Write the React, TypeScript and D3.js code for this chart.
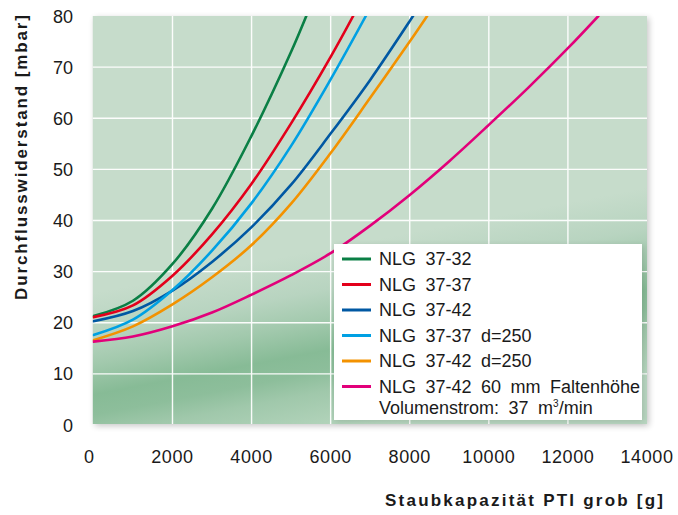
import React from "react";
import * as d3 from "d3";

const W = 678;
const H = 515;

const xTicks = [0, 2000, 4000, 6000, 8000, 10000, 12000, 14000];
const yTicks = [0, 10, 20, 30, 40, 50, 60, 70, 80];

const seriesNames = [
  "NLG 37-32",
  "NLG 37-37",
  "NLG 37-42",
  "NLG 37-37 d=250",
  "NLG 37-42 d=250",
  "NLG 37-42 60 mm Faltenhöhe",
];
const seriesColors = ["#0a7f45", "#e3001b", "#0058a3", "#00a0e3", "#f39200", "#e2007a"];

const green: [number, number][] = [
  [0, 21.3], [1000, 24.3], [2000, 31.5], [3000, 42.3], [4000, 56.6], [5000, 73], [5400, 80.3],
];
const red: [number, number][] = [
  [0, 21.1], [1000, 23.4], [2000, 29.2], [3000, 37.3], [4000, 47.2], [5000, 59], [6000, 72], [6570, 80],
];
const darkBlue: [number, number][] = [
  [0, 20.3], [1000, 22.3], [2000, 26.3], [3000, 31.9], [4000, 38.7], [5000, 47], [6000, 57], [7000, 67.5], [8000, 79], [8100, 80.2],
];
const lightBlue: [number, number][] = [
  [0, 17.6], [1000, 20.6], [2000, 26.4], [3000, 34.1], [4000, 43.4], [5000, 54.6], [6000, 67.6], [6890, 80],
];
const orange: [number, number][] = [
  [0, 16.6], [1000, 19.3], [2000, 23.6], [3000, 28.9], [4000, 35.2], [5000, 43.3], [6000, 53.2], [7000, 64], [8000, 75], [8440, 80],
];
const magenta: [number, number][] = [
  [0, 16.3], [1000, 17.3], [2000, 19.3], [3000, 22], [4000, 25.5], [5000, 29.3], [6000, 33.6], [7000, 39],
  [8000, 45], [9000, 51.6], [10000, 58.7], [11000, 66], [12000, 73.7], [12770, 80],
];
const seriesData = [green, red, darkBlue, lightBlue, orange, magenta];

const legendNote = "Volumenstrom: 37 m";

export default function App() {
  const x = d3.scaleLinear().domain([0, 14000]).range([93.4, 647]);
  const y = d3.scaleLinear().domain([0, 80]).range([425, 16]);
  const line = d3
    .line<[number, number]>()
    .x((d) => x(d[0]))
    .y((d) => y(d[1]))
    .curve(d3.curveCatmullRom.alpha(0.5));

  const pl = x(0) - 0.6;
  const pr = x(14000);
  const pt = y(80);
  const pb = 424;

  const font = "'Liberation Sans', Arial, Helvetica, sans-serif";
  const legX = 334;
  const legY = 244;
  const rowY = [259, 284.5, 310, 335.5, 361, 386.5];

  return (
    <svg
      width={W}
      height={H}
      style={{ position: "absolute", left: 0, top: 0, background: "#fff" }}
      fontFamily={font}
    >
      <defs>
        <linearGradient id="bg" gradientUnits="userSpaceOnUse" x1={349.4} y1={234} x2={386.8} y2={430.4}>
          <stop offset="0" stopColor="#c6dccb" />
          <stop offset="0.05" stopColor="#c6dccb" />
          <stop offset="0.25" stopColor="#b8d4c0" />
          <stop offset="0.4" stopColor="#a2c9ad" />
          <stop offset="0.55" stopColor="#87bb96" />
          <stop offset="0.65" stopColor="#8dbe9b" />
          <stop offset="0.75" stopColor="#a0c8ab" />
          <stop offset="0.95" stopColor="#b5d5bd" />
          <stop offset="1" stopColor="#b8d6c0" />
        </linearGradient>
        <filter id="shadow" x="-5%" y="-5%" width="110%" height="110%">
          <feGaussianBlur stdDeviation="3" />
        </filter>
        <clipPath id="clip">
          <rect x={pl} y={pt} width={pr - pl} height={pb - pt} />
        </clipPath>
      </defs>

      {/* shadow */}
      <rect x={pl + 2} y={pt + 2} width={pr - pl} height={pb - pt} fill="#000" opacity={0.22} filter="url(#shadow)" />
      <rect x={pl} y={pt} width={pr - pl} height={pb - pt} fill="url(#bg)" />

      {/* grid */}
      <g stroke="#ffffff" strokeWidth={1.4} opacity={0.95}>
        {xTicks.slice(1, -1).map((t) => (
          <line key={"gx" + t} x1={x(t)} x2={x(t)} y1={pt} y2={pb} />
        ))}
        {yTicks.slice(1, -1).map((t) => (
          <line key={"gy" + t} x1={pl} x2={pr} y1={y(t)} y2={y(t)} />
        ))}
      </g>

      {/* curves */}
      <g clipPath="url(#clip)" fill="none" strokeWidth={2.6} strokeLinecap="round">
        {seriesData.map((s, i) => (
          <path key={i} d={line(s) || ""} stroke={seriesColors[i]} />
        ))}
      </g>

      {/* legend */}
      <rect x={legX + 1.5} y={legY + 1.5} width={308} height={176} fill="#000" opacity={0.12} filter="url(#shadow)" />
      <rect x={legX} y={legY} width={308} height={176} fill="#ffffff" />
      {seriesNames.map((n, i) => (
        <g key={n}>
          <line x1={342} x2={371} y1={rowY[i]} y2={rowY[i]} stroke={seriesColors[i]} strokeWidth={3} />
          <text x={379} y={rowY[i] + 6.3} fontSize={18} fill="#1a1a1a" style={{ wordSpacing: "4.5px" }}>
            {n}
          </text>
        </g>
      ))}
      <text x={379} y={414} fontSize={18} fill="#1a1a1a" style={{ wordSpacing: "4.5px" }}>
        {legendNote}
        <tspan dy={-7} fontSize={10}>3</tspan>
        <tspan dy={7}>/min</tspan>
      </text>

      {/* y tick labels */}
      {yTicks.map((t) => (
        <text key={"yt" + t} x={73} y={y(t) + 6.5} fontSize={18} textAnchor="end" fill="#1a1a1a">
          {t}
        </text>
      ))}
      {/* x tick labels */}
      {xTicks.map((t) => (
        <text
          key={"xt" + t}
          x={x(t) - (t === 0 ? 4 : 0)}
          y={463}
          fontSize={18}
          textAnchor="middle"
          fill="#1a1a1a"
          style={{ letterSpacing: "0.6px" }}
        >
          {t}
        </text>
      ))}

      {/* axis titles */}
      <text
        transform={`translate(26.5,${300}) rotate(-90)`}
        fontSize={17}
        fontWeight="bold"
        fill="#1a1a1a"
        textLength={285}
        lengthAdjust="spacing"
      >
        Durchflusswiderstand [mbar]
      </text>
      <text x={385} y={506} fontSize={17} fontWeight="bold" fill="#1a1a1a" textLength={278} lengthAdjust="spacing">
        Staubkapazität PTI grob [g]
      </text>
    </svg>
  );
}
